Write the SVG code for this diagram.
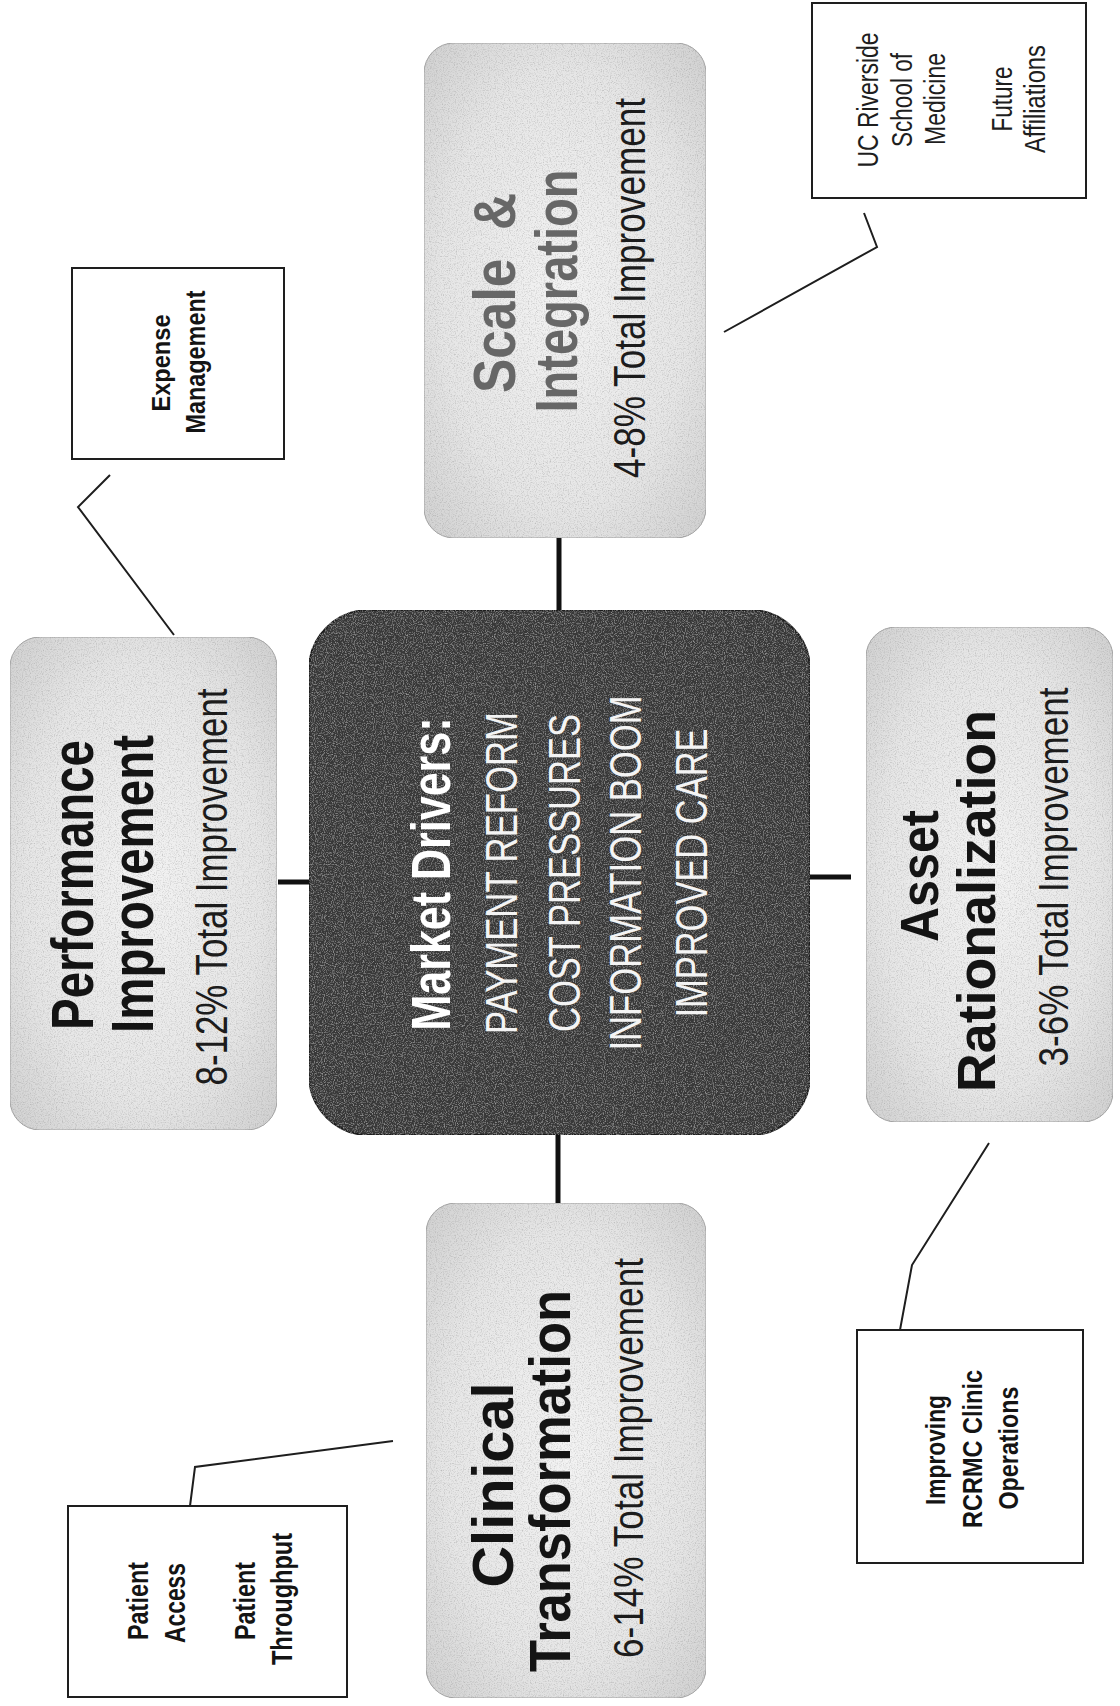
<svg xmlns="http://www.w3.org/2000/svg" width="1120" height="1706" viewBox="0 0 1120 1706">
  <style>
    text { font-family: "Liberation Sans Narrow", "Liberation Sans", Arial, sans-serif; text-anchor: middle; }
    .head { font-weight: bold; fill: #141414; }
    .head-gray { font-weight: bold; fill: #676767; }
    .pct { fill: #1c1c1c; }
    .drv-title { font-weight: bold; fill: #ffffff; }
    .drv { fill: #f4f4f4; }
    .note { fill: #1e1e1e; }
    .note-b { font-weight: bold; fill: #141414; }
    .lever { fill: url(#leverFill); stroke: #a4a4a4; stroke-width: 1; filter: url(#grainDark); }
    .core { fill: #373737; stroke: #1c1c1c; stroke-width: 2; filter: url(#grainLight); }
    .callout { fill: #ffffff; stroke: #1e1e1e; stroke-width: 2; }
    .link { fill: none; stroke: #111111; stroke-width: 5; }
    .leader { fill: none; stroke: #1e1e1e; stroke-width: 2; stroke-linejoin: miter; }
  </style>
  <defs>
    <radialGradient id="leverFill" cx="50%" cy="50%" r="68%">
      <stop offset="0" stop-color="#f3f3f3"/>
      <stop offset="0.65" stop-color="#e6e6e6"/>
      <stop offset="1" stop-color="#d2d2d2"/>
    </radialGradient>
    <!-- speckled print texture for the light boxes -->
    <filter id="grainDark" x="0" y="0" width="100%" height="100%">
      <feTurbulence type="fractalNoise" baseFrequency="0.85" numOctaves="2" seed="4" result="noise"/>
      <feColorMatrix in="noise" type="matrix" values="0 0 0 0 0.3  0 0 0 0 0.3  0 0 0 0 0.3  0 0 0 1.3 -0.6" result="dots"/>
      <feComposite in="dots" in2="SourceGraphic" operator="in" result="dotsIn"/>
      <feMerge><feMergeNode in="SourceGraphic"/><feMergeNode in="dotsIn"/></feMerge>
    </filter>
    <!-- lighter speckle for the dark centre box -->
    <filter id="grainLight" x="0" y="0" width="100%" height="100%">
      <feTurbulence type="fractalNoise" baseFrequency="0.9" numOctaves="2" seed="9" result="noise"/>
      <feColorMatrix in="noise" type="matrix" values="0 0 0 0 0.6  0 0 0 0 0.6  0 0 0 0 0.6  0 0 0 1.2 -0.57" result="dots"/>
      <feComposite in="dots" in2="SourceGraphic" operator="in" result="dotsIn"/>
      <feMerge><feMergeNode in="SourceGraphic"/><feMergeNode in="dotsIn"/></feMerge>
    </filter>
  </defs>

  <rect x="0" y="0" width="1120" height="1706" fill="#ffffff"/>

  <!-- connectors -->
  <g id="connectors">
    <line class="link" x1="559" y1="537" x2="559" y2="611"/>
    <line class="link" x1="278" y1="882" x2="310" y2="882"/>
    <line class="link" x1="809" y1="877" x2="851" y2="877"/>
    <line class="link" x1="558" y1="1134" x2="558" y2="1204"/>
    <polyline class="leader" points="110,475 78,507 174,635"/>
    <polyline class="leader" points="864,213 877,247 724,332"/>
    <polyline class="leader" points="190,1506 195,1467 393,1441"/>
    <polyline class="leader" points="900,1330 912,1265 989,1143"/>
  </g>

  <!-- centre: market drivers -->
  <g id="market-drivers">
    <rect class="core" x="309" y="610" width="501" height="525" rx="60" ry="60"/>
    <text class="drv-title" font-size="55" textLength="313" lengthAdjust="spacingAndGlyphs" transform="translate(450,874) rotate(-90)">Market Drivers:</text>
    <text class="drv" font-size="45" textLength="322" lengthAdjust="spacingAndGlyphs" transform="translate(517,873) rotate(-90)">PAYMENT REFORM</text>
    <text class="drv" font-size="45" textLength="318" lengthAdjust="spacingAndGlyphs" transform="translate(580,873) rotate(-90)">COST PRESSURES</text>
    <text class="drv" font-size="45" textLength="355" lengthAdjust="spacingAndGlyphs" transform="translate(641,873) rotate(-90)">INFORMATION BOOM</text>
    <text class="drv" font-size="45" textLength="289" lengthAdjust="spacingAndGlyphs" transform="translate(707,873) rotate(-90)">IMPROVED CARE</text>
  </g>

  <!-- lever: performance improvement -->
  <g id="performance-improvement">
    <rect class="lever" x="10" y="637" width="267" height="493" rx="30" ry="30"/>
    <text class="head" font-size="60" textLength="290" lengthAdjust="spacingAndGlyphs" transform="translate(93,885) rotate(-90)">Performance</text>
    <text class="head" font-size="60" textLength="298" lengthAdjust="spacingAndGlyphs" transform="translate(153,884) rotate(-90)">Improvement</text>
    <text class="pct" font-size="44" textLength="397" lengthAdjust="spacingAndGlyphs" transform="translate(227,887) rotate(-90)">8-12% Total Improvement</text>
  </g>

  <!-- lever: scale & integration -->
  <g id="scale-integration">
    <rect class="lever" x="424" y="43" width="282" height="495" rx="30" ry="30"/>
    <text class="head-gray" font-size="60" textLength="200" lengthAdjust="spacingAndGlyphs" xml:space="preserve" transform="translate(515,293) rotate(-90)">Scale  &amp;</text>
    <text class="head-gray" font-size="60" textLength="243" lengthAdjust="spacingAndGlyphs" transform="translate(577,291) rotate(-90)">Integration</text>
    <text class="pct" font-size="44" textLength="380" lengthAdjust="spacingAndGlyphs" transform="translate(645,288) rotate(-90)">4-8% Total Improvement</text>
  </g>

  <!-- lever: asset rationalization -->
  <g id="asset-rationalization">
    <rect class="lever" x="866" y="627" width="247" height="495" rx="30" ry="30"/>
    <text class="head" font-size="54" textLength="132" lengthAdjust="spacingAndGlyphs" transform="translate(938,876) rotate(-90)">Asset</text>
    <text class="head" font-size="54" textLength="382" lengthAdjust="spacingAndGlyphs" transform="translate(995,901) rotate(-90)">Rationalization</text>
    <text class="pct" font-size="43" textLength="379" lengthAdjust="spacingAndGlyphs" transform="translate(1068,877) rotate(-90)">3-6% Total Improvement</text>
  </g>

  <!-- lever: clinical transformation -->
  <g id="clinical-transformation">
    <rect class="lever" x="426" y="1203" width="280" height="495" rx="30" ry="30"/>
    <text class="head" font-size="58" textLength="205" lengthAdjust="spacingAndGlyphs" transform="translate(513,1485) rotate(-90)">Clinical</text>
    <text class="head" font-size="58" textLength="382" lengthAdjust="spacingAndGlyphs" transform="translate(570,1481) rotate(-90)">Transformation</text>
    <text class="pct" font-size="43" textLength="400" lengthAdjust="spacingAndGlyphs" transform="translate(643,1458) rotate(-90)">6-14% Total Improvement</text>
  </g>

  <!-- callout: expense management -->
  <g id="expense-management">
    <rect class="callout" x="72" y="268" width="212" height="191"/>
    <text class="note-b" font-size="26" textLength="97" lengthAdjust="spacingAndGlyphs" transform="translate(170,363) rotate(-90)">Expense</text>
    <text class="note-b" font-size="27" textLength="143" lengthAdjust="spacingAndGlyphs" transform="translate(205,362) rotate(-90)">Management</text>
  </g>

  <!-- callout: affiliations -->
  <g id="uc-riverside">
    <rect class="callout" x="812" y="3" width="274" height="195"/>
    <text class="note" font-size="29" textLength="135" lengthAdjust="spacingAndGlyphs" transform="translate(878,100) rotate(-90)">UC Riverside</text>
    <text class="note" font-size="29" textLength="94" lengthAdjust="spacingAndGlyphs" transform="translate(912,100) rotate(-90)">School of</text>
    <text class="note" font-size="29" textLength="92" lengthAdjust="spacingAndGlyphs" transform="translate(945,99) rotate(-90)">Medicine</text>
    <text class="note" font-size="29" textLength="65" lengthAdjust="spacingAndGlyphs" transform="translate(1012,99) rotate(-90)">Future</text>
    <text class="note" font-size="29" textLength="108" lengthAdjust="spacingAndGlyphs" transform="translate(1045,99) rotate(-90)">Affiliations</text>
  </g>

  <!-- callout: patient flow -->
  <g id="patient-flow">
    <rect class="callout" x="68" y="1506" width="279" height="191"/>
    <text class="note-b" font-size="29" textLength="78" lengthAdjust="spacingAndGlyphs" transform="translate(148,1601) rotate(-90)">Patient</text>
    <text class="note-b" font-size="29" textLength="80" lengthAdjust="spacingAndGlyphs" transform="translate(185,1603) rotate(-90)">Access</text>
    <text class="note-b" font-size="29" textLength="78" lengthAdjust="spacingAndGlyphs" transform="translate(255,1601) rotate(-90)">Patient</text>
    <text class="note-b" font-size="29" textLength="132" lengthAdjust="spacingAndGlyphs" transform="translate(292,1599) rotate(-90)">Throughput</text>
  </g>

  <!-- callout: clinic operations -->
  <g id="clinic-operations">
    <rect class="callout" x="857" y="1330" width="226" height="233"/>
    <text class="note-b" font-size="28" textLength="110" lengthAdjust="spacingAndGlyphs" transform="translate(945,1450) rotate(-90)">Improving</text>
    <text class="note-b" font-size="28" textLength="158" lengthAdjust="spacingAndGlyphs" transform="translate(982,1449) rotate(-90)">RCRMC Clinic</text>
    <text class="note-b" font-size="28" textLength="123" lengthAdjust="spacingAndGlyphs" transform="translate(1018,1448) rotate(-90)">Operations</text>
  </g>
</svg>
